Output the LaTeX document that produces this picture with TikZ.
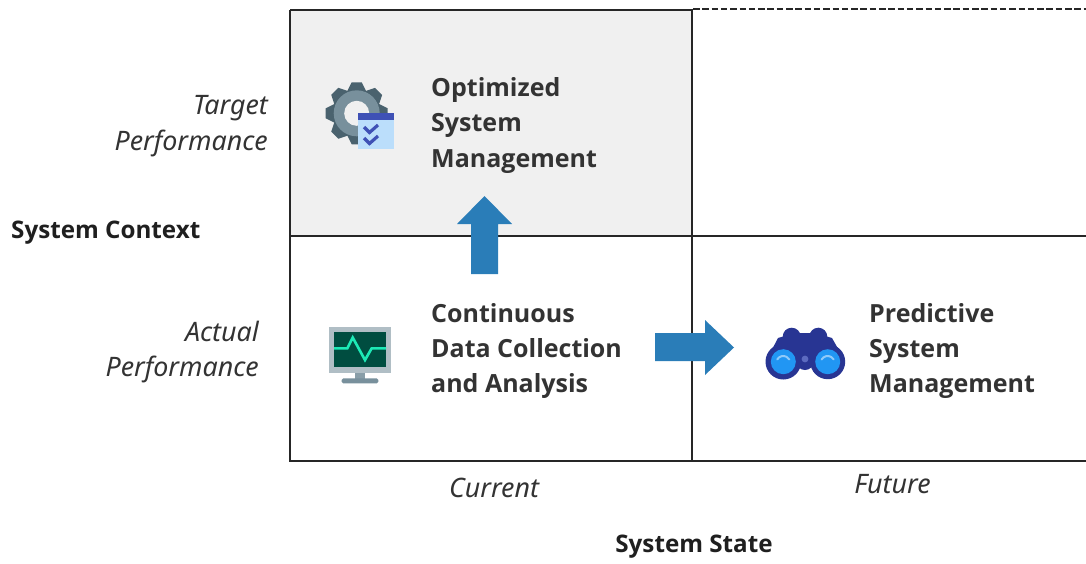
\documentclass[tikz,border=0pt]{standalone}
\usepackage{fontspec}
\setmainfont{Open Sans}
\newfontfamily\itfam{Noto Sans}
\definecolor{inkc}{HTML}{262626}
\definecolor{txtc}{HTML}{333333}
\definecolor{panel}{HTML}{F0F0F0}
\definecolor{arrowc}{HTML}{2A7DB8}
\definecolor{gearout}{HTML}{4A626E}
\definecolor{gearin}{HTML}{78909C}
\definecolor{calb}{HTML}{BBDEFB}
\definecolor{calh}{HTML}{3F51B5}
\definecolor{monf}{HTML}{B0BEC5}
\definecolor{mons}{HTML}{004D40}
\definecolor{monl}{HTML}{1DE9B6}
\definecolor{mond}{HTML}{78909C}
\definecolor{binb}{HTML}{283593}
\definecolor{binl}{HTML}{2196F3}
\definecolor{binm}{HTML}{5C6BC0}
\definecolor{binh}{HTML}{90CAF9}
\tikzset{
  x=1pt,y=-1pt,
  gridline/.style={draw=inkc,line width=2pt},
  ital/.style={font=\fontsize{26.8}{35.6}\selectfont\itfam\itshape,text=txtc,align=right,inner sep=0pt},
  italc/.style={font=\fontsize{26.8}{30}\selectfont\itfam\itshape,text=txtc,inner sep=0pt},
  boldt/.style={font=\fontsize{25}{35.4}\selectfont\bfseries,text=txtc,align=left,inner sep=0pt},
  axist/.style={font=\fontsize{24.2}{30}\selectfont\bfseries,text=txtc!60!black,inner sep=0pt},
  blockarrow/.style={fill=arrowc,draw=none},
}
\begin{document}
\begin{tikzpicture}
\useasboundingbox (0,0) rectangle (1086,563);
\fill[panel] (290,10) rectangle (692,236);
\draw[gridline] (290,10) -- (692,10) -- (692,461);
\draw[gridline] (290,10) -- (290,461) -- (1086,461);
\draw[gridline] (290,236) -- (1086,236);
\draw[draw=inkc,line width=2pt,dash pattern=on 6.5pt off 2.8pt] (693,9) -- (1086,9);
% arrows
\fill[blockarrow] (471,274) -- (498,274) -- (498,224) -- (512,224) -- (484.5,196) -- (457,224) -- (471,224) -- cycle;
\fill[blockarrow] (655,333) -- (705,333) -- (705,320) -- (734,347.5) -- (705,375) -- (705,361) -- (655,361) -- cycle;
% gear
\begin{scope}[shift={(356.7,113.3)}]
\foreach \a in {0,45,...,315}
  \fill[gearout,rotate=\a] (-10.5,-20) -- (-5,-31) -- (5,-31) -- (10.5,-20) -- cycle;
\fill[gearin] (0,0) circle (23);
\fill[panel] (0,0) circle (12.5);
\end{scope}
\fill[calb] (358.3,113.3) rectangle (394.3,149.3);
\fill[calh] (358.3,113.3) rectangle (394.3,120);
\draw[calh,line width=3.2pt] (364,127) -- (369.5,132.5) -- (378,125);
\draw[calh,line width=3.2pt] (364,138) -- (369.5,143.5) -- (378,136);
% monitor
\fill[monf] (329,326.7) rectangle (391,372.7);
\fill[mons] (334,331.7) rectangle (386,367);
\fill[mond!70!monf] (355,372.7) rectangle (365,378.5);
\fill[mond,rounded corners=1.5pt] (341.7,378.3) rectangle (378.3,383.3);
\draw[monl,line width=2.6pt] (334,348.3) -- (347.3,348.3) -- (352.7,337.5) -- (365,360) -- (371.7,348.3) -- (386,348.3);
% binoculars
\fill[binb] (791.7,336.7) circle (9);
\fill[binb] (818.3,336.7) circle (9);
\fill[binb] (766,361) -- (778,338) -- (795,333) -- (815,333) -- (832,338) -- (845,361) -- cycle;
\fill[binb] (783.3,361.7) circle (17.8);
\fill[binb] (827.7,361.7) circle (17.5);
\fill[binb] (805,361) circle (9);
\fill[binl] (783.3,361.7) circle (12.5);
\fill[binl] (827.7,361.7) circle (12.5);
\fill[binm] (805,359) circle (3.4);
\draw[binh,line width=2pt,line cap=round] (777.2,359.5) arc[start angle=210,end angle=330,radius=7];
\draw[binh,line width=2pt,line cap=round] (821.6,359.5) arc[start angle=210,end angle=330,radius=7];
% labels
\node[ital,anchor=east] (tp) at (268,126) {Target\\Performance};
\node[ital,anchor=east] (ap) at (259,352) {Actual\\Performance};
\node[axist,anchor=west] (sc) at (11,232.5) {System Context};
\node[boldt,anchor=west] (osm) at (431,125.5) {Optimized\\System\\Management};
\node[boldt,anchor=west] (cdc) at (431,351) {Continuous\\Data Collection\\and Analysis};
\node[boldt,anchor=west] (psm) at (869,351) {Predictive\\System\\Management};
\node[italc] (cur) at (494,488) {Current};
\node[italc] (fut) at (892.5,484) {Future};
\node[axist] (ss) at (694,546.5) {System State};
\end{tikzpicture}
\end{document}
